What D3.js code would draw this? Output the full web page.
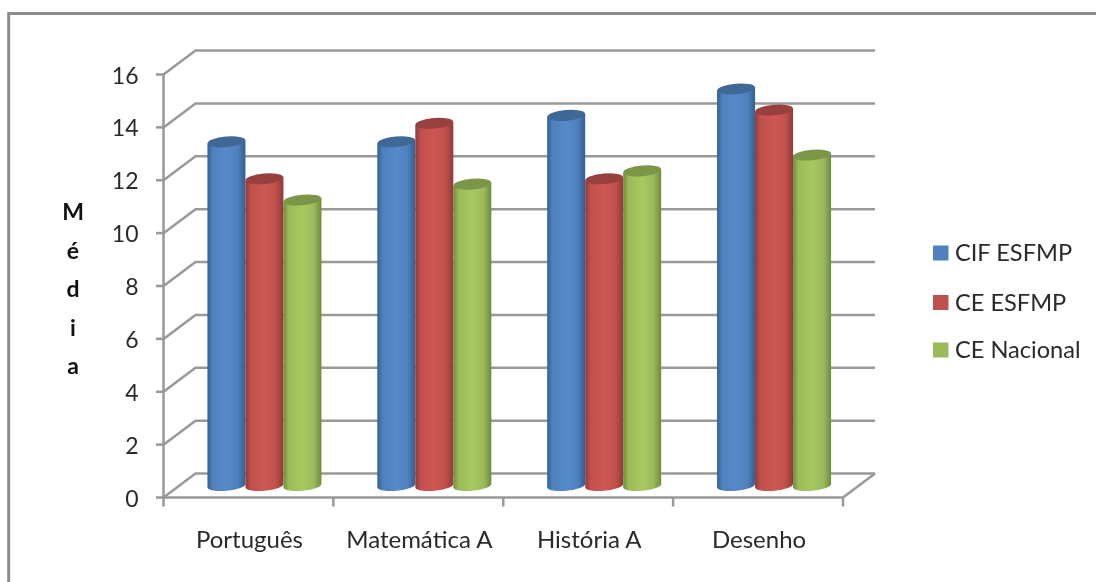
<!DOCTYPE html>
<html><head><meta charset="utf-8">
<script src="https://cdn.jsdelivr.net/npm/d3@7"></script>
<style>html,body{margin:0;padding:0;background:#fff}svg{display:block}text{font-family:Lato,"Open Sans",sans-serif;fill:#2a2a2a}</style>
</head><body><svg id="c" width="1096" height="582"></svg>
<script>
const categories = ["Português","Matemática A","História A","Desenho"];
const seriesNames = ["CIF ESFMP","CE ESFMP","CE Nacional"];
const cifEsfmp = [13,13,14,15];
const ceEsfmp = [11.6,13.7,11.6,14.2];
const ceNacional = [10.8,11.4,11.9,12.5];
const seriesValues = [cifEsfmp,ceEsfmp,ceNacional];
const yTicks = [0,2,4,6,8,10,12,14,16];
const colors = [["#4f81bd","#335f92","#558aca"],["#c0504d","#8f3a38","#cf5754"],["#9bbb59","#6f8a3f","#a6c95f"]];
const topColors = ["#3f6797","#98403e","#7c9647"];
const axisLabel = ["M","é","d","i","a"];

const svg = d3.select("#c");
const x = d3.scaleBand().domain(categories).range([163.5,843]);
const y = d3.scaleLinear().domain([0,16]).range([497.5,74.5]);
const dx = 32, dy = -24;
const gray = "#999";

const defs = svg.append("defs");
defs.append("filter").attr("id","softer").append("feGaussianBlur").attr("stdDeviation",0.4);
colors.forEach((c,i)=>{
  const g = defs.append("linearGradient").attr("id","g"+i);
  [[0,c[1]],[.14,c[0]],[.5,c[2]],[.8,c[0]],[1,c[1]]].forEach(s=>g.append("stop").attr("offset",s[0]).attr("stop-color",s[1]));
});

svg.append("path").attr("d","M1096,13.5H8.7V582").attr("fill","none").attr("stroke","#8c8c8c").attr("stroke-width",3).attr("filter","url(#softer)");

// back wall gridlines + floor
const grid = svg.append("g").attr("fill","none").attr("stroke",gray).attr("stroke-width",2.5).attr("filter","url(#softer)");
yTicks.forEach(t=>{
  grid.append("path").attr("d",`M163.5,${y(t)}L${163.5+dx},${y(t)+dy}H875`);
});
grid.append("path").attr("d",`M163.5,${y(0)}H843L875,${y(0)+dy}`);
grid.append("path").attr("d",`M163.5,${y(16)}V${y(0)+9}`);
yTicks.forEach(t=>grid.append("path").attr("d",`M156,${y(t)}H163.5`));
d3.range(1,5).forEach(i=>grid.append("path").attr("d",`M${163.5+i*x.step()},${y(0)}v9`));

// cylinders
const barW = 38, ry = 5.3, mid = -12, tilt = -5;
const lift = barW/2*Math.sin(-tilt*Math.PI/180);
const xs = d3.scaleBand().domain([0,1,2]).range([0,3*barW]);
const bars = svg.append("g").attr("filter","url(#softer)");
categories.forEach((cat,ci)=>{
  const left = x(cat)+x.bandwidth()/2+16-1.5*barW;
  [0,1,2].forEach(si=>{
    const v = seriesValues[si][ci];
    const x0 = left+xs(si), x1 = x0+barW, cx = x0+barW/2;
    const top = y(v)+mid, base = y(0)+mid;
    bars.append("path")
      .attr("d",`M${x0},${top+lift}V${base+lift}A${barW/2},${ry} ${tilt} 0 0 ${x1},${base-lift}V${top-lift}Z`)
      .attr("fill",`url(#g${si})`);
    bars.append("ellipse").attr("cx",cx).attr("cy",top).attr("rx",barW/2).attr("ry",ry)
      .attr("transform",`rotate(${tilt} ${cx} ${top})`)
      .attr("fill",topColors[si]);
  });
});

// y tick labels
svg.append("g").selectAll("text").data(yTicks).join("text")
  .attr("x",138.5).attr("y",d=>y(d)+9).attr("text-anchor","end").attr("font-size",23).text(d=>d);
// category labels
svg.append("g").selectAll("text").data(categories).join("text")
  .attr("x",d=>x(d)+x.bandwidth()/2+1).attr("y",548).attr("text-anchor","middle").attr("font-size",24).text(d=>d);
// axis title
svg.append("g").selectAll("text").data(axisLabel).join("text")
  .attr("x",73).attr("y",(d,i)=>220+i*38.5).attr("text-anchor","middle").attr("font-size",23).attr("font-weight",700).attr("style","fill:#111").text(d=>d);
// legend
const legY = [253,302.5,350];
const leg = svg.append("g");
seriesNames.forEach((n,i)=>{
  leg.append("rect").attr("x",933).attr("y",legY[i]-7.5).attr("width",15.5).attr("height",15).attr("fill",colors[i][0]);
  leg.append("text").attr("x",955).attr("y",legY[i]+8).attr("font-size",23.6).text(n);
});
</script></body></html>
